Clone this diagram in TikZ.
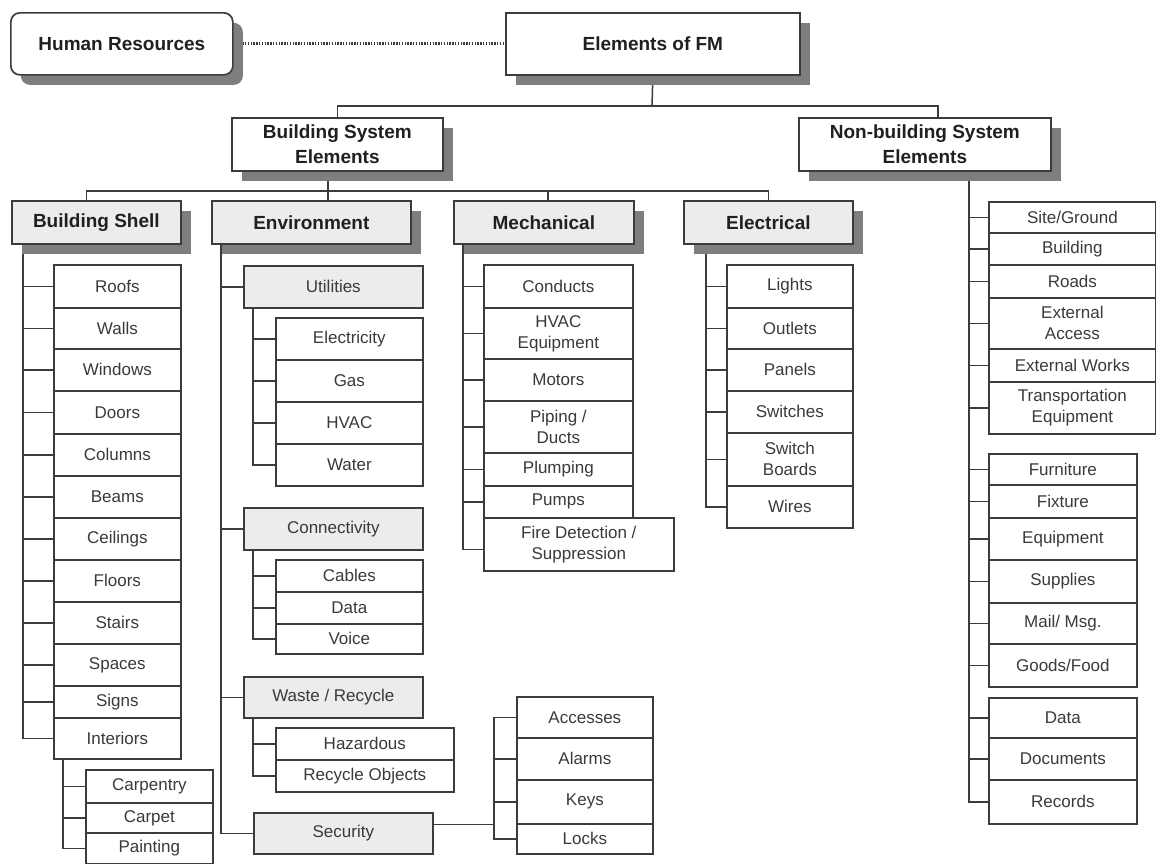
\documentclass[tikz,border=0pt]{standalone}
\usepackage{fontspec}
\setmainfont{Liberation Sans}
\usetikzlibrary{shadows,backgrounds}

\definecolor{linec}{HTML}{3C3C3C}
\definecolor{shadowc}{HTML}{7E7E7E}
\definecolor{headfill}{HTML}{ECECEC}
\definecolor{headtext}{HTML}{202020}
\definecolor{leaftext}{HTML}{3A3A3A}

\newcommand\leaffont{\fontsize{17pt}{21pt}\selectfont}
\newcommand\headfont{\bfseries\fontsize{19pt}{25pt}\selectfont}

% \cell[style]{name}{x1}{y1}{x2}{y2}{text}: a box given by its corners
\newcommand\cell[7][leaf]{%
  \node[#1, minimum width={#5pt-#3pt}, minimum height={#6pt-#4pt}] (#2) at (#3,#4) {#7};}

\tikzset{
  base/.style={draw=linec, line width=1.7pt, inner sep=0pt, align=center, anchor=north west},
  leaf/.style={base, fill=white, font=\leaffont, text=leaftext},
  subhead/.style={base, fill=headfill, font=\leaffont, text=leaftext},
  shadowed/.style={drop shadow={shadow xshift=10pt, shadow yshift=-10pt, opacity=1, fill=shadowc}},
  head/.style={base, fill=headfill, font=\headfont, text=headtext, shadowed},
  topbox/.style={base, fill=white, font=\headfont, text=headtext, shadowed},
  conn/.style={draw=linec, line width=1.5pt},
  dotline/.style={draw=linec, line width=3pt, dash pattern=on 1.4pt off 1.4pt},
}

\begin{document}
\begin{tikzpicture}[x=1pt, y=-1pt]
\useasboundingbox (0,0) rectangle (1156,863);

% ---------- top levels ----------
\cell[topbox, rounded corners=9pt]{hr}{10}{12}{232}{74}{Human Resources}
\cell[topbox]{fm}{505}{12}{799}{74}{Elements of FM}
\cell[topbox]{bse}{231}{117}{442}{170}{Building System\\Elements}
\cell[topbox]{nbse}{798}{117}{1050}{170}{Non-building System\\Elements}

% ---------- building system groups ----------
\cell[head]{bshell}{11}{200}{180}{243}{Building Shell}
\cell[head]{env}{211}{200}{410}{243}{Environment}
\cell[head]{mech}{453}{200}{633}{243}{Mechanical}
\cell[head]{elec}{683}{200}{852}{243}{Electrical}

% Building Shell
\cell{roofs}{53}{264}{180}{307}{Roofs}
\cell{walls}{53}{307}{180}{348}{Walls}
\cell{windows}{53}{348}{180}{390}{Windows}
\cell{doors}{53}{390}{180}{433}{Doors}
\cell{columns}{53}{433}{180}{475}{Columns}
\cell{beams}{53}{475}{180}{517}{Beams}
\cell{ceilings}{53}{517}{180}{559}{Ceilings}
\cell{floors}{53}{559}{180}{601}{Floors}
\cell{stairs}{53}{601}{180}{643}{Stairs}
\cell{spaces}{53}{643}{180}{685}{Spaces}
\cell{signs}{53}{685}{180}{717}{Signs}
\cell{interiors}{53}{717}{180}{758}{Interiors}
\cell{carpentry}{85}{769}{212}{802}{Carpentry}
\cell{carpet}{85}{802}{212}{832}{Carpet}
\cell{painting}{85}{832}{212}{863}{Painting}

% Environment
\cell[subhead]{utilities}{243}{265}{422}{307}{Utilities}
\cell{electricity}{275}{317}{422}{359}{Electricity}
\cell{gas}{275}{359}{422}{401}{Gas}
\cell{hvac}{275}{401}{422}{443}{HVAC}
\cell{water}{275}{443}{422}{485}{Water}
\cell[subhead]{connectivity}{243}{507}{422}{549}{Connectivity}
\cell{cables}{275}{559}{422}{591}{Cables}
\cell{data}{275}{591}{422}{623}{Data}
\cell{voice}{275}{623}{422}{653}{Voice}
\cell[subhead]{waste}{243}{676}{422}{717}{Waste / Recycle}
\cell{hazardous}{275}{727}{453}{759}{Hazardous}
\cell{recycle}{275}{759}{453}{791}{Recycle Objects}
\cell[subhead]{security}{253}{812}{432}{853}{Security}
\cell{accesses}{516}{696}{652}{737}{Accesses}
\cell{alarms}{516}{737}{652}{779}{Alarms}
\cell{keys}{516}{779}{652}{823}{Keys}
\cell{locks}{516}{823}{652}{853}{Locks}

% Mechanical
\cell{conducts}{483}{264}{632}{307}{Conducts}
\cell{hvaceq}{483}{307}{632}{358}{HVAC\\Equipment}
\cell{motors}{483}{358}{632}{400}{Motors}
\cell{piping}{483}{400}{632}{452}{Piping /\\Ducts}
\cell{plumping}{483}{452}{632}{485}{Plumping}
\cell{pumps}{483}{485}{632}{517}{Pumps}
\cell{fire}{483}{517}{673}{570}{Fire Detection /\\Suppression}

% Electrical
\cell{lights}{726}{264}{852}{307}{Lights}
\cell{outlets}{726}{307}{852}{348}{Outlets}
\cell{panels}{726}{348}{852}{390}{Panels}
\cell{switches}{726}{390}{852}{432}{Switches}
\cell{switchboards}{726}{432}{852}{485}{Switch\\Boards}
\cell{wires}{726}{485}{852}{527}{Wires}

% ---------- non-building system ----------
\cell{site}{988}{201}{1155}{232}{Site/Ground}
\cell{building}{988}{232}{1155}{264}{Building}
\cell{roads}{988}{264}{1155}{297}{Roads}
\cell{extaccess}{988}{297}{1155}{348}{External\\Access}
\cell{extworks}{988}{348}{1155}{381}{External Works}
\cell{transport}{988}{381}{1155}{433}{Transportation\\Equipment}
\cell{furniture}{988}{453}{1136}{484}{Furniture}
\cell{fixture}{988}{484}{1136}{517}{Fixture}
\cell{equipment}{988}{517}{1136}{559}{Equipment}
\cell{supplies}{988}{559}{1136}{602}{Supplies}
\cell{mail}{988}{602}{1136}{643}{Mail/ Msg.}
\cell{goods}{988}{643}{1136}{686}{Goods/Food}
\cell{ndata}{988}{697}{1136}{737}{Data}
\cell{documents}{988}{737}{1136}{779}{Documents}
\cell{records}{988}{779}{1136}{823}{Records}

% ---------- connectors (behind the boxes and their shadows) ----------
\begin{scope}[on background layer]
\fill[white] (0,0) rectangle (1156,863);

\draw[dotline] (hr.east) -- (fm.west);

% first level bus
\coordinate (bus1) at (652,106);
\coordinate (nbsetop) at ([xshift=13pt]nbse.north);
\draw[conn] (fm.south) -- (bus1);
\draw[conn] (bse.north) |- (bus1) -| (nbsetop);

% second level bus
\coordinate (bus2) at (328,191);
\coordinate (mechtop) at ([xshift=4pt]mech.north);
\draw[conn] (bse.south -| bus2) -- (env.north -| bus2);
\draw[conn] ([xshift=-10pt]bshell.north) |- (elec.north |- bus2) -- (elec.north);
\draw[conn] (mechtop) -- (mechtop |- bus2);

% Building Shell tree
\coordinate (bst) at ([xshift=12pt]bshell.south west);
\draw[conn] (bst) |- (interiors.west);
\foreach \n in {roofs,walls,windows,doors,columns,beams,ceilings,floors,stairs,spaces,signs}
  \draw[conn] (\n.west) -- (\n.west -| bst);
\coordinate (cpt) at ([xshift=10pt]interiors.south west);
\draw[conn] (cpt) |- (painting.west);
\foreach \n in {carpentry,carpet}
  \draw[conn] (\n.west) -- (\n.west -| cpt);

% Environment tree
\coordinate (envt) at ([xshift=10pt]env.south west);
\draw[conn] (envt) |- (security.west);
\foreach \n in {utilities,connectivity,waste}
  \draw[conn] (\n.west) -- (\n.west -| envt);
\coordinate (utt) at ([xshift=10pt]utilities.south west);
\draw[conn] (utt) |- (water.west);
\foreach \n in {electricity,gas,hvac}
  \draw[conn] (\n.west) -- (\n.west -| utt);
\coordinate (cot) at ([xshift=10pt]connectivity.south west);
\draw[conn] (cot) |- (voice.west);
\foreach \n in {cables,data}
  \draw[conn] (\n.west) -- (\n.west -| cot);
\coordinate (wat) at ([xshift=10pt]waste.south west);
\draw[conn] (wat) |- (recycle.west);
\draw[conn] (hazardous.west) -- (hazardous.west -| wat);
\coordinate (sct) at ([xshift=-22pt]accesses.west);
\draw[conn] (accesses.west) -- (sct) |- (locks.west);
\foreach \n in {alarms,keys}
  \draw[conn] (\n.west) -- (\n.west -| sct);
\draw[conn] ([yshift=9pt]security.east) -- ([yshift=9pt]security.east -| sct);

% Mechanical tree
\coordinate (mct) at ([xshift=10pt]mech.south west);
\draw[conn] (mct) |- ([yshift=-5pt]fire.west);
\foreach \n in {conducts,hvaceq,motors,piping,plumping,pumps}
  \draw[conn] (\n.west) -- (\n.west -| mct);

% Electrical tree
\coordinate (elt) at ([xshift=23pt]elec.south west);
\draw[conn] (elt) |- (wires.west);
\foreach \n in {lights,outlets,panels,switches,switchboards}
  \draw[conn] (\n.west) -- (\n.west -| elt);

% Non-building tree
\coordinate (nbt) at ([xshift=171pt]nbse.south west);
\draw[conn] (nbt) |- (records.west);
\foreach \n in {site,building,roads,extaccess,extworks,transport,
                furniture,fixture,equipment,supplies,mail,goods,ndata,documents}
  \draw[conn] (\n.west) -- (\n.west -| nbt);
\end{scope}
\end{tikzpicture}
\end{document}
